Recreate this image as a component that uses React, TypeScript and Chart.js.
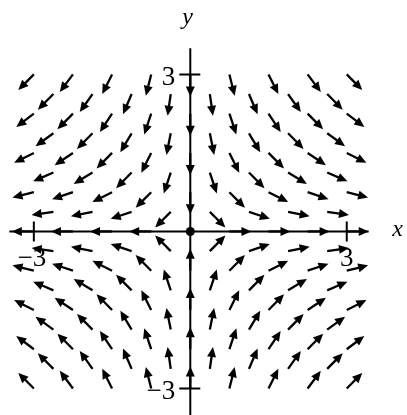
import { useEffect, useRef } from 'react';
import { Chart, registerables } from 'chart.js';

Chart.register(...registerables);

// Sample levels used on both axes for the direction field (step 3/8)
const LEVELS = [
  -3, -2.625, -2.25, -1.875, -1.5, -1.125, -0.75, -0.375, 0,
  0.375, 0.75, 1.125, 1.5, 1.875, 2.25, 2.625, 3,
];

const X_TICKS = [-3, 3];
const X_TICK_LABELS = ['\u22123', '3'];
const Y_TICKS = [-3, 3];
const Y_TICK_LABELS = ['\u22123', '3'];

const EQUILIBRIUM = [{ x: 0, y: 0 }];

// Linear saddle: x' = x, y' = -y
const flow = (x: number, y: number): [number, number] => [x, -y];

// Staggered sampling lattice: keep every other node, skip the equilibrium
const samplePoints: { x: number; y: number }[] = [];
LEVELS.forEach((x, i) => {
  LEVELS.forEach((y, j) => {
    if ((i + j) % 2 === 0 && !(x === 0 && y === 0)) samplePoints.push({ x, y });
  });
});

const ARROW_LEN = 22;
const HEAD_LEN = 10;
const HEAD_WIDTH = 9;
const SERIF = '"Liberation Serif", "Times New Roman", "DejaVu Serif", serif';

const fieldPlugin = {
  id: 'directionField',
  beforeDatasetsDraw(chart: any) {
    const { ctx } = chart;
    const sx = chart.scales.x;
    const sy = chart.scales.y;
    const ox = sx.getPixelForValue(0);
    const oy = sy.getPixelForValue(0);
    ctx.save();
    ctx.strokeStyle = '#000';
    ctx.fillStyle = '#000';
    ctx.lineWidth = 2;
    ctx.beginPath();
    // axes
    ctx.moveTo(sx.getPixelForValue(-3.47), oy);
    ctx.lineTo(sx.getPixelForValue(3.42), oy);
    ctx.moveTo(ox, sy.getPixelForValue(3.5));
    ctx.lineTo(ox, sy.getPixelForValue(-3.6));
    // tick marks crossing the axes
    X_TICKS.forEach((v) => {
      const px = sx.getPixelForValue(v);
      ctx.moveTo(px, oy - 10);
      ctx.lineTo(px, oy + 10);
    });
    Y_TICKS.forEach((v) => {
      const py = sy.getPixelForValue(v);
      ctx.moveTo(ox - 11, py);
      ctx.lineTo(ox + 10, py);
    });
    ctx.stroke();

    // tick labels
    ctx.font = `27px ${SERIF}`;
    ctx.textBaseline = 'alphabetic';
    ctx.textAlign = 'center';
    X_TICKS.forEach((v, k) => {
      ctx.fillText(X_TICK_LABELS[k], sx.getPixelForValue(v) + (v < 0 ? -2 : 0), oy + 35);
    });
    ctx.textAlign = 'right';
    Y_TICKS.forEach((v, k) => {
      ctx.fillText(Y_TICK_LABELS[k], ox - 15, sy.getPixelForValue(v) + 11);
    });

    // axis names
    ctx.font = `italic 24px ${SERIF}`;
    ctx.textAlign = 'left';
    ctx.fillText('x', ox + 202, oy + 5);
    ctx.fillText('y', ox - 8, sy.getPixelForValue(3.5) - 24);
    ctx.restore();
  },
  afterDatasetsDraw(chart: any) {
    const { ctx } = chart;
    const sx = chart.scales.x;
    const sy = chart.scales.y;
    const meta = chart.getDatasetMeta(0);
    const pts = chart.data.datasets[0].data as { x: number; y: number }[];
    ctx.save();
    ctx.strokeStyle = '#000';
    ctx.fillStyle = '#000';
    ctx.lineWidth = 2.3;
    meta.data.forEach((el: any, k: number) => {
      const p = pts[k];
      const [vx, vy] = flow(p.x, p.y);
      const dx = sx.getPixelForValue(p.x + vx) - el.x;
      const dy = sy.getPixelForValue(p.y + vy) - el.y;
      const m = Math.hypot(dx, dy) || 1;
      const ux = dx / m;
      const uy = dy / m;
      const tipX = el.x + ux * ARROW_LEN;
      const tipY = el.y + uy * ARROW_LEN;
      const bx = tipX - ux * HEAD_LEN;
      const by = tipY - uy * HEAD_LEN;
      ctx.beginPath();
      ctx.moveTo(el.x, el.y);
      ctx.lineTo(bx + ux * 2, by + uy * 2);
      ctx.stroke();
      ctx.beginPath();
      ctx.moveTo(tipX, tipY);
      ctx.lineTo(bx - uy * HEAD_WIDTH / 2, by + ux * HEAD_WIDTH / 2);
      ctx.lineTo(bx + uy * HEAD_WIDTH / 2, by - ux * HEAD_WIDTH / 2);
      ctx.closePath();
      ctx.fill();
    });
    ctx.restore();
  },
};

export default function App() {
  const canvasRef = useRef<HTMLCanvasElement | null>(null);

  useEffect(() => {
    if (!canvasRef.current) return;
    const chart = new Chart(canvasRef.current, {
      type: 'scatter',
      data: {
        datasets: [
          {
            data: samplePoints,
            pointRadius: 0,
            pointHoverRadius: 0,
          },
          {
            data: EQUILIBRIUM,
            pointRadius: 4.5,
            pointBackgroundColor: '#000',
            pointBorderColor: '#000',
            pointBorderWidth: 0,
          },
        ],
      },
      options: {
        responsive: false,
        animation: false,
        devicePixelRatio: 1,
        layout: { padding: 0 },
        plugins: { legend: { display: false }, tooltip: { enabled: false } },
        scales: {
          x: { type: 'linear', min: -3.5625, max: 4.069, display: false },
          y: { type: 'linear', min: -3.421, max: 4.336, display: false },
        },
      },
      plugins: [fieldPlugin],
    });
    return () => chart.destroy();
  }, []);

  return (
    <div style={{ position: 'fixed', left: 0, top: 0, width: 407, height: 415, background: '#fff' }}>
      <canvas ref={canvasRef} width={407} height={415} />
    </div>
  );
}
